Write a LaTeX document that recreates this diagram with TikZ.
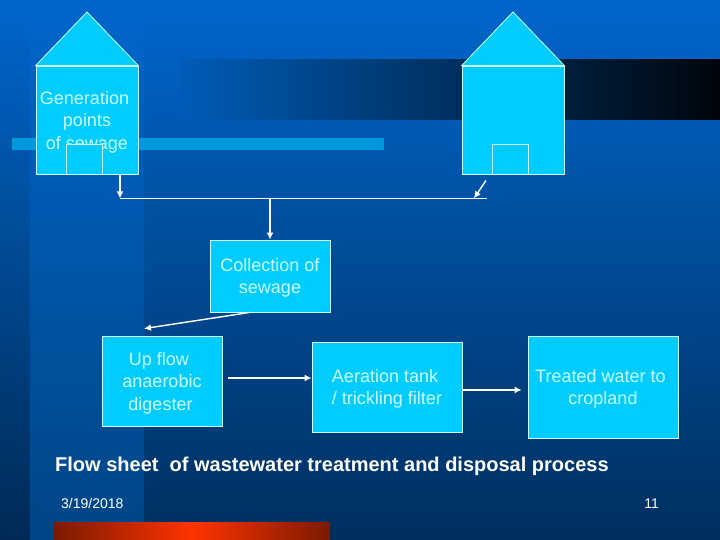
\documentclass[tikz,border=0pt]{standalone}
\usepackage{fontspec}
\setmainfont{Liberation Sans}
\usetikzlibrary{arrows.meta}
\definecolor{boxfill}{HTML}{00CCFF}
\definecolor{boxline}{HTML}{CCFFFF}
\definecolor{bgtop}{HTML}{0066CC}
\definecolor{bgmid}{HTML}{004A96}
\definecolor{bgbottom}{HTML}{002F5F}
\definecolor{bgstrip}{HTML}{004585}
\definecolor{bgedge}{HTML}{002A55}
\definecolor{stripe}{HTML}{0099DD}
\definecolor{barred}{HTML}{FF3300}
\definecolor{bardark}{HTML}{7A1A00}
\newcommand\lift{\rule{0pt}{17pt}}
\tikzset{
	box/.style={draw=boxline,fill=boxfill,line width=0.8pt,minimum width=#1,inner sep=0pt,align=center,text=boxline,font=\fontsize{18}{22.5}\selectfont},
	flow/.style={draw=white,line width=1.4pt,-{Latex[length=7pt,width=7pt]}},
	plain/.style={draw=boxline,line width=0.8pt},
}
\begin{document}
\begin{tikzpicture}[x=1pt,y=-1pt]
\useasboundingbox (0,0) rectangle (720,540);
% background
\shade [top color=bgtop,middle color=bgmid,bottom color=bgbottom] (0,0) rectangle (720,540);
\shade [top color=bgtop,middle color=bgmid,bottom color=bgedge] (0,0) rectangle (30,540);
\shade [top color=bgtop,middle color=bgmid,bottom color=bgstrip] (30,0) rectangle (144,540);
\shade [left color=bgtop!90!black,right color=black!95!bgtop] (180,60) rectangle (720,120);
\fill [stripe] (12,138) rectangle (384,150);
\shade [left color=bardark,right color=barred] (54,522) rectangle (192,540);
\shade [left color=barred,right color=bardark] (192,522) rectangle (330,540);
% houses
\foreach \name/\xc/\txt in {one/87/{\lift Generation\hspace*{5pt}\\points\hspace*{5pt}\\of sewage},two/513/{}} {
	\node [box=102pt,minimum height=108pt] (house\name) at (\xc,120) {\txt};
	\draw [plain,fill=boxfill] (house\name.north west) -- (\xc,12) -- (house\name.north east) -- cycle;
	\node [box=36pt,minimum height=30pt,anchor=south] (door\name) at ([xshift=-3pt]house\name.south) {};
}
% boxes
\node [box=120pt,minimum height=72pt] (coll) at (270,276) {\lift Collection of\\sewage};
\node [box=120pt,minimum height=90pt] (dig) at (162,381) {\lift Up flow\hspace*{6pt}\\anaerobic\hspace*{6pt}\\digester\hspace*{3pt}};
\node [box=150pt,minimum height=90pt,align=left] (aer) at (387,387) {\lift Aeration tank\\/ trickling filter};
\node [box=150pt,minimum height=102pt] (crop) at (603,387) {\lift Treated water to\hspace*{5pt}\\cropland};
% connectors
\coordinate (joinl) at ([xshift=33pt,yshift=-24pt]houseone.south);
\coordinate (joinr) at ([xshift=-26pt,yshift=-24pt]housetwo.south);
\coordinate (joinm) at (coll.north |- joinl);
\draw [draw=white,line width=0.8pt] (joinl) -- (joinr);
\draw [flow] ([xshift=33pt]houseone.south) -- (joinl);
\draw [flow] ([xshift=-27pt,yshift=-6pt]housetwo.south) -- ([xshift=-39pt,yshift=-24pt]housetwo.south);
\draw [flow] (joinm) -- (coll.north);
\draw [flow] ([xshift=-20pt]coll.south) -- ([xshift=-18pt,yshift=7pt]dig.north);
\draw [flow] ([xshift=6pt,yshift=3pt]dig.east) -- ([yshift=9pt]aer.west);
\draw [flow] ([yshift=-3pt]aer.east) -- ([yshift=-3pt,xshift=-6pt]crop.west);
% captions
\node [anchor=base west,inner sep=0pt,text=white,font=\bfseries\fontsize{20}{24}\selectfont] (title) at (55,471) {Flow sheet\ \ of wastewater treatment and disposal process};
\node [anchor=base west,inner sep=0pt,text=white,font=\fontsize{14}{16}\selectfont] (date) at (61,508) {3/19/2018};
\node [anchor=base east,inner sep=0pt,text=white,font=\fontsize{14}{16}\selectfont] (page) at (659,508) {11};
\end{tikzpicture}
\end{document}
